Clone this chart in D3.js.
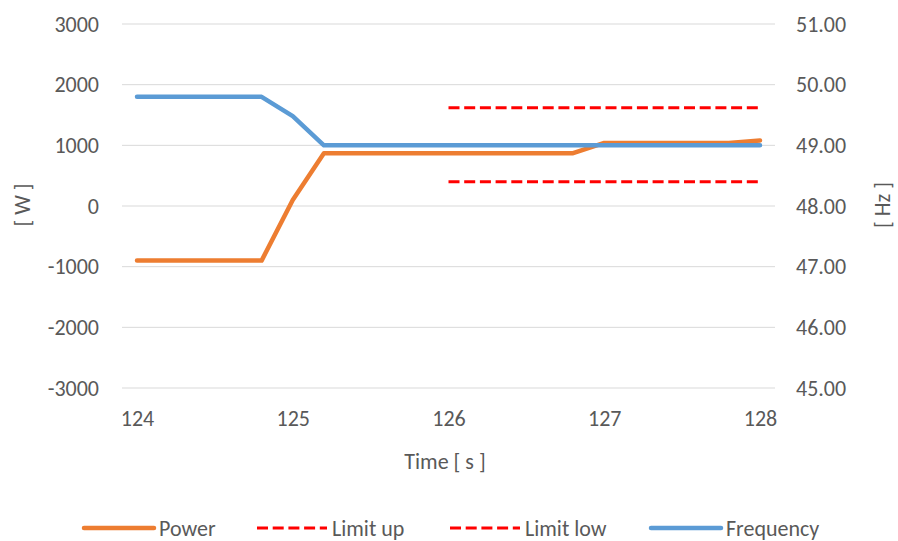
<!DOCTYPE html>
<html>
<head>
<meta charset="utf-8">
<script src="https://cdn.jsdelivr.net/npm/d3@7"></script>
<style>
  body { margin: 0; background: #fff; }
  text { font-family: Carlito, Lato, "Open Sans", sans-serif; fill: #595959; }
</style>
</head>
<body>
<svg id="chart" width="898" height="541"></svg>
<script>
// time in seconds, sampled every 0.2 s
const time = [124, 124.2, 124.4, 124.6, 124.8, 125, 125.2, 125.4, 125.6, 125.8, 126,
              126.2, 126.4, 126.6, 126.8, 127, 127.2, 127.4, 127.6, 127.8, 128];
const power = [-900, -900, -900, -900, -900, 100, 870, 870, 870, 870, 870,
               870, 870, 870, 870, 1040, 1040, 1040, 1040, 1040, 1080];
const frequency = [49.8, 49.8, 49.8, 49.8, 49.8, 49.48, 49.0, 49.0, 49.0, 49.0, 49.0,
                   49.0, 49.0, 49.0, 49.0, 49.0, 49.0, 49.0, 49.0, 49.0, 49.0];
const limitTime = [126, 128];
const limitUp = [1620, 1620];
const limitLow = [400, 400];

const xTicks = [124, 125, 126, 127, 128];
const wTicks = [-3000, -2000, -1000, 0, 1000, 2000, 3000];
const hzTicks = [45, 46, 47, 48, 49, 50, 51];

const svg = d3.select("#chart");

const x = d3.scaleLinear().domain([124, 128]).range([137, 760]);
const yW = d3.scaleLinear().domain([-3000, 3000]).range([388, 24]);
const yHz = d3.scaleLinear().domain([45, 51]).range([388, 24]);

const gridLeft = 122, gridRight = 775;
const fontSize = "22px";

// gridlines
svg.append("g")
  .selectAll("line")
  .data(wTicks)
  .join("line")
  .attr("x1", gridLeft)
  .attr("x2", gridRight)
  .attr("y1", d => yW(d))
  .attr("y2", d => yW(d))
  .attr("stroke", "#d9d9d9")
  .attr("stroke-width", 1);

// left axis
const leftAxis = svg.append("g")
  .attr("transform", `translate(${gridLeft},0)`)
  .call(d3.axisLeft(yW).tickValues(wTicks).tickSize(0).tickPadding(23).tickFormat(d => String(d)));
leftAxis.select(".domain").remove();

// right axis
const rightAxis = svg.append("g")
  .attr("transform", `translate(${gridRight},0)`)
  .call(d3.axisRight(yHz).tickValues(hzTicks).tickSize(0).tickPadding(21).tickFormat(d => d.toFixed(2)));
rightAxis.select(".domain").remove();

// bottom axis
const bottomAxis = svg.append("g")
  .attr("transform", `translate(0,${yW(-3000)})`)
  .call(d3.axisBottom(x).tickValues(xTicks).tickSize(0).tickPadding(22).tickFormat(d => String(d)));
bottomAxis.select(".domain").remove();

svg.selectAll(".tick text")
  .style("font-size", fontSize)
  .style("fill", "#595959");

// axis titles
svg.append("text")
  .attr("transform", "translate(22,205) rotate(-90)")
  .attr("text-anchor", "middle")
  .attr("dy", "0.35em")
  .style("font-size", fontSize)
  .text("[ W ]");

svg.append("text")
  .attr("transform", "translate(882,205) rotate(-90)")
  .attr("text-anchor", "middle")
  .attr("dy", "0.35em")
  .style("font-size", fontSize)
  .text("[ Hz ]");

svg.append("text")
  .attr("x", 445)
  .attr("y", 461)
  .attr("text-anchor", "middle")
  .attr("dy", "0.35em")
  .style("font-size", fontSize)
  .text("Time [ s ]");

// limit lines
const limitLine = d3.line().x((d, i) => x(limitTime[i])).y(d => yW(d));
[limitUp, limitLow].forEach(vals => {
  svg.append("path")
    .attr("d", limitLine(vals))
    .attr("fill", "none")
    .attr("stroke", "#ff0000")
    .attr("stroke-width", 3)
    .attr("stroke-dasharray", "11,4.7");
});

// power
const powerLine = d3.line().x((d, i) => x(time[i])).y(d => yW(d));
svg.append("path")
  .attr("d", powerLine(power))
  .attr("fill", "none")
  .attr("stroke", "#ed7d31")
  .attr("stroke-width", 4.5)
  .attr("stroke-linejoin", "round")
  .attr("stroke-linecap", "round");

// frequency
const freqLine = d3.line().x((d, i) => x(time[i])).y(d => yHz(d));
svg.append("path")
  .attr("d", freqLine(frequency))
  .attr("fill", "none")
  .attr("stroke", "#5b9bd5")
  .attr("stroke-width", 4.5)
  .attr("stroke-linejoin", "round")
  .attr("stroke-linecap", "round");

// legend
const legendItems = [
  { name: "Power", color: "#ed7d31", dash: null, x0: 84 },
  { name: "Limit up", color: "#ff0000", dash: "11,4.7", x0: 257 },
  { name: "Limit low", color: "#ff0000", dash: "11,4.7", x0: 450 },
  { name: "Frequency", color: "#5b9bd5", dash: null, x0: 651 }
];
const legendY = 528;
const legend = svg.append("g");
legendItems.forEach(item => {
  legend.append("line")
    .attr("x1", item.x0)
    .attr("x2", item.x0 + 70)
    .attr("y1", legendY)
    .attr("y2", legendY)
    .attr("stroke", item.color)
    .attr("stroke-width", item.dash ? 3 : 4.5)
    .attr("stroke-dasharray", item.dash)
    .attr("stroke-linecap", item.dash ? "butt" : "round");
  legend.append("text")
    .attr("x", item.x0 + 75)
    .attr("y", legendY)
    .attr("dy", "0.35em")
    .style("font-size", fontSize)
    .text(item.name);
});
</script>
</body>
</html>
